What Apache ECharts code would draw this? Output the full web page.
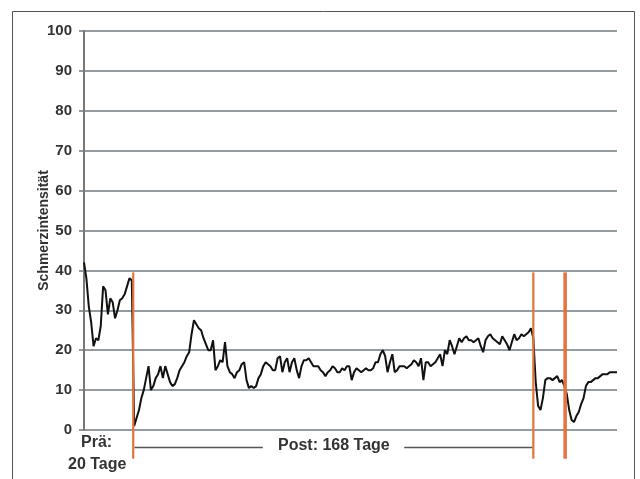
<!DOCTYPE html>
<html>
<head>
<meta charset="utf-8">
<script src="https://cdn.jsdelivr.net/npm/echarts@6/dist/echarts.min.js"></script>
<style>
html,body{margin:0;padding:0;background:#fff;}
#c{width:640px;height:479px;}
</style>
</head>
<body>
<div id="c"></div>
<script>
// Daily pain intensity values: 20 pre days, 168 post days, then follow-up days
var painValues = [
42,38,31,27,21,23,22.5,26,36,35,29,33,32,28,30,32.5,33,34,36,38,37.5,
1,3,5,8,10,13,16,10,11,13,14,16,13,16,14,12,11,11.5,13,15,16,17,18.5,19.5,24,27.5,26.5,25.5,25,23,21.5,20,20,22.5,15,16,17.5,17,22,16,14.5,14,13,14.5,15,16.5,17,12.5,10.5,11,10.5,11,13,14,16,17,16.5,16,15,15,18,18.5,14.5,17,18,14.5,17,18,15,13,16,17.5,17.5,18,17,16,16,16,15,14.5,13.5,14.5,15,16,15.5,14.5,14.5,15.5,15,16,16,12.5,14.5,15.5,15,14.5,15,15.5,15,15,15.5,17,17,19,20,18.5,14.5,17,19,14.5,15,16,16,16,15.5,16,16.5,17.5,17,16,18,12.5,17,17,16,16.5,17,18,19,16,20,19,22.5,21,19,21,23,22,23,23.5,22.5,22.5,22,22.5,23,21,19.5,22.5,23.5,24,23,22.5,22,21.5,23.5,22.5,21.5,20,22,24,22.5,23,24,23.5,24,24.5,25.5,
23,12,6,5,8,12.5,13,13,12.5,13,13.5,12,12.5,11,9,5,2.5,2,3.5,4.5,6.5,8,11,12,12,12.5,13,13,13.5,14,14,14,14.5,14.5,14.5,14.5
];
var yTicks = [0,10,20,30,40,50,60,70,80,90,100];
var markerDays = [20.6, 188, 201.3];      // orange phase markers
var markerRange = [39.5, -7.2];           // top/bottom of the markers (value units)
var bracketLevel = -4.4;                  // level of the "Post" bracket lines
var bracketLeft = [21.1, 74.8];
var bracketRight = [134, 187.8];
var yName = 'Schmerzintensität';
var preLabel1 = 'Prä:', preLabel2 = '20 Tage', postLabel = 'Post: 168 Tage';

var lineData = painValues.map(function(v,i){return [i,v];});
var FONT = '"Liberation Sans", Arial, sans-serif';
var orange = '#e2733c';

var series = [{
  type:'line', data: lineData, showSymbol:false, symbol:'none',
  lineStyle:{color:'#111', width:2}, z:5, animation:false
}];
markerDays.forEach(function(d,i){
  series.push({
    type:'line', clip:false, symbol:'none', silent:true, animation:false,
    data:[[d,markerRange[0]],[d,markerRange[1]]],
    lineStyle:{color:orange, width: i===2 ? 3.5 : 2.2}, z:6
  });
});
[bracketLeft, bracketRight].forEach(function(b){
  series.push({
    type:'line', clip:false, symbol:'none', silent:true, animation:false,
    data:[[b[0],bracketLevel],[b[1],bracketLevel]],
    lineStyle:{color:'#555', width:1.5}, z:4
  });
});

var chart = echarts.init(document.getElementById('c'));
chart.setOption({
  animation:false,
  backgroundColor:'#fff',
  grid:{left:84, right:23, top:31, bottom:49},
  xAxis:{type:'value', min:0, max:painValues.length-1, show:false},
  yAxis:{
    type:'value', min:yTicks[0], max:yTicks[yTicks.length-1], interval:10,
    name:yName, nameLocation:'middle', nameGap:33, nameRotate:90, nameMoveOverlap:false,
    nameTextStyle:{fontFamily:FONT, fontWeight:'bold', fontSize:14, color:'#333'},
    axisLine:{show:true, lineStyle:{color:'#777', width:2}},
    axisTick:{show:true, length:5, lineStyle:{color:'#777', width:1.5}},
    axisLabel:{margin:12, fontFamily:FONT, fontWeight:'bold', fontSize:15, color:'#333'},
    splitLine:{show:true, lineStyle:{color:'#959b9e', width:2}}
  },
  graphic:[
    {type:'rect', shape:{x:12.5, y:11.5, width:622, height:480}, style:{fill:'none', stroke:'#555', lineWidth:1}, z:-1},
    {type:'text', left:81, top:435, style:{text:preLabel1, font:'bold 16px '+FONT, fill:'#333'}},
    {type:'text', left:68, top:457, style:{text:preLabel2, font:'bold 16px '+FONT, fill:'#333'}},
    {type:'text', left:278, top:438, style:{text:postLabel, font:'bold 16px '+FONT, fill:'#333'}}
  ],
  series:series
});
</script>
</body>
</html>
